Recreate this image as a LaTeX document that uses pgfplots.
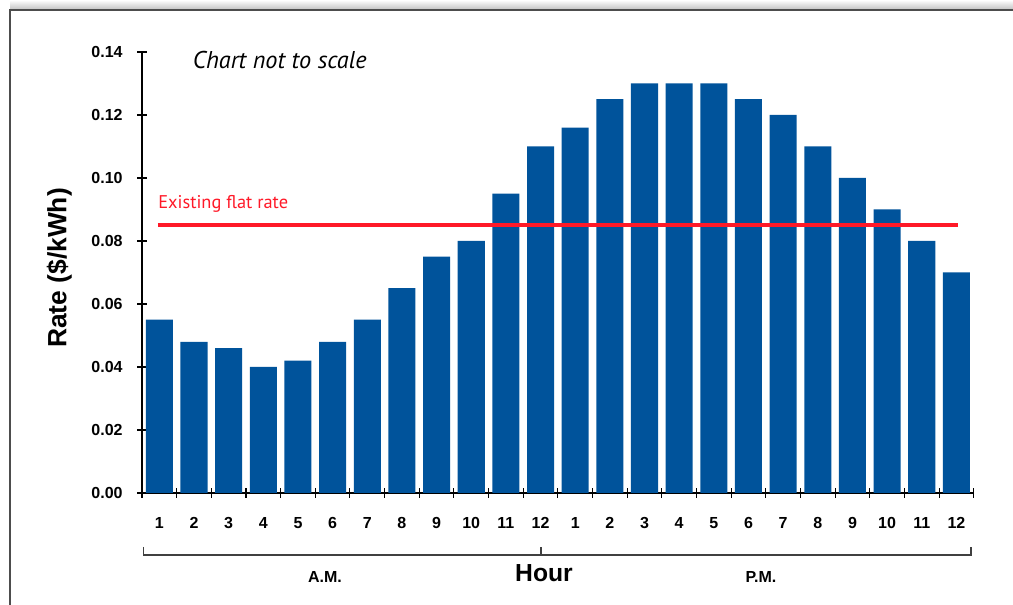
\documentclass[border=0pt]{standalone}
\usepackage{pgfplots}
\pgfplotsset{compat=1.18}
\usepackage{fontspec}
\setmainfont{Liberation Sans}
\newfontfamily\myriad{PT Sans}

\definecolor{barblue}{RGB}{0,83,155}
\definecolor{flatred}{RGB}{255,25,40}
\definecolor{framegray}{RGB}{77,77,77}

% hourly rates, 1 AM ... 12 PM
\begin{document}
\begin{tikzpicture}
\path[use as bounding box] (0,0) rectangle (759.75pt,453.75pt);
% page frame with a soft shadow on top
\shade[top color=white, bottom color=black!25] (7.5pt,446.25pt) rectangle (759.75pt,453.75pt);
\draw[framegray, line width=1.1pt] (7.5pt,0) -- (7.5pt,446.25pt) -- (759.75pt,446.25pt);

\begin{axis}[
  at={(106.5pt,84pt)}, anchor=south west,
  scale only axis,
  width=623.8pt, height=330.75pt,
  xmin=0.5, xmax=24.5, ymin=0, ymax=0.14,
  clip=false,
  axis x line*=bottom, axis y line*=left,
  axis line style={-, black, line width=0.9pt},
  ybar, bar width=0.78,
  xtick={1,...,24},
  xticklabels={1,2,3,4,5,6,7,8,9,10,11,12,1,2,3,4,5,6,7,8,9,10,11,12},
  major x tick style={draw=none},
  minor xtick={0.5,1.5,...,24.5},
  minor tick length=7.5pt,
  major tick length=7.5pt,
  tick align=center,
  tick style={black, line width=0.8pt},
  minor x tick style={black, line width=0.8pt},
  ytick={0,0.02,...,0.141},
  /pgf/number format/fixed,
  /pgf/number format/fixed zerofill,
  /pgf/number format/precision=2,
  /pgf/number format/assume math mode=true,
  ticklabel style={font=\fontsize{12}{14}\selectfont\bfseries},
  xticklabel style={anchor=center, yshift=-18.5pt},
  yticklabel style={anchor=east, xshift=-7.3pt},
]
\addplot[fill=barblue, draw=none] coordinates {
  (1,0.055) (2,0.048) (3,0.046) (4,0.040) (5,0.042) (6,0.048)
  (7,0.055) (8,0.065) (9,0.075) (10,0.080) (11,0.095) (12,0.110)
  (13,0.116) (14,0.125) (15,0.130) (16,0.130) (17,0.130) (18,0.125)
  (19,0.120) (20,0.110) (21,0.100) (22,0.090) (23,0.080) (24,0.070)
};
\addplot[sharp plot, flatred, line width=3pt, forget plot] coordinates {(0.96,0.085) (24.05,0.085)};
\end{axis}

% annotations
\node[anchor=base west, inner sep=0, text=flatred, font=\myriad\fontsize{13.8}{16}\selectfont] at (118.5pt,297pt) {Existing flat rate};
\node[anchor=base west, inner sep=0, font=\myriad\itshape\fontsize{18.2}{21}\selectfont] at (144.5pt,402.5pt) {Chart not to scale};
\node[rotate=90, font=\fontsize{19.8}{23}\selectfont\bfseries] at (44.5pt,252.75pt) {Rate (\$/kWh)};

% AM / PM bracket
\draw[black!75, line width=1pt] (107.8pt,43.5pt) -- (107.8pt,37.5pt) -- (728.25pt,37.5pt) -- (728.25pt,43.5pt);
\draw[black!75, line width=1pt] (405.75pt,37.5pt) -- (405.75pt,43.5pt);
\node[font=\fontsize{12}{14}\selectfont\bfseries] at (243.75pt,21pt) {A.M.};
\node[font=\fontsize{12}{14}\selectfont\bfseries] at (570.75pt,21pt) {P.M.};
\node[font=\fontsize{18.5}{21}\selectfont\bfseries] at (408pt,24pt) {Hour};
\end{tikzpicture}
\end{document}
